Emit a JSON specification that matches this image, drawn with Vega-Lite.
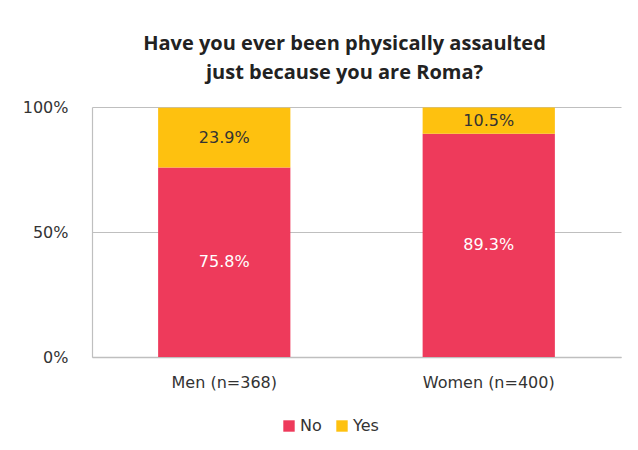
{
  "$schema": "https://vega.github.io/schema/vega-lite/v6.json",
  "width": 529,
  "height": 250,
  "padding": {"left": 22, "top": 34, "right": 17, "bottom": 14},
  "background": "white",
  "title": {
    "text": ["Have you ever been physically assaulted", "just because you are Roma?"],
    "font": "Open Sans",
    "fontSize": 20,
    "fontWeight": "bold",
    "color": "#222222",
    "anchor": "middle",
    "dx": -12,
    "offset": 16,
    "lineHeight": 29
  },
  "data": {
    "values": [
      {"group": "Men (n=368)", "answer": "No", "value": 0.758},
      {"group": "Men (n=368)", "answer": "Yes", "value": 0.239},
      {"group": "Women (n=400)", "answer": "No", "value": 0.893},
      {"group": "Women (n=400)", "answer": "Yes", "value": 0.105}
    ]
  },
  "encoding": {
    "x": {
      "field": "group",
      "type": "nominal",
      "sort": null,
      "scale": {"paddingInner": 0.5, "paddingOuter": 0.25},
      "axis": {
        "title": null,
        "labelAngle": 0,
        "labelFont": "DejaVu Sans",
        "labelFontSize": 16,
        "labelColor": "#333333",
        "labelPadding": 17,
        "ticks": false,
        "domainColor": "#bfbfbf",
        "domainWidth": 1.5
      }
    }
  },
  "layer": [
    {
      "mark": {"type": "bar"},
      "encoding": {
        "y": {
          "field": "value",
          "type": "quantitative",
          "stack": "zero",
          "scale": {"domain": [0, 1]},
          "axis": {
            "title": null,
            "values": [0, 0.5, 1],
            "format": ".0%",
            "labelFont": "DejaVu Sans",
            "labelFontSize": 16,
            "labelColor": "#333333",
            "labelPadding": 24,
            "ticks": false,
            "grid": true,
            "gridColor": "#bfbfbf",
            "gridWidth": 1.2,
            "domain": true,
            "domainColor": "#bfbfbf",
            "domainWidth": 1.2
          }
        },
        "color": {
          "field": "answer",
          "type": "nominal",
          "scale": {"domain": ["No", "Yes"], "range": ["#EE3A5B", "#FEC10F"]},
          "legend": {
            "title": null,
            "orient": "none",
            "legendX": 189,
            "legendY": 311,
            "direction": "horizontal",
            "symbolType": "square",
            "symbolSize": 130,
            "symbolStrokeWidth": 0,
            "labelFont": "DejaVu Sans",
            "labelFontSize": 16,
            "labelColor": "#333333",
            "columnPadding": 12,
            "labelOffset": 3
          }
        },
        "order": {"field": "answer", "sort": "ascending"}
      }
    },
    {
      "mark": {"type": "text", "font": "DejaVu Sans", "fontSize": 16, "baseline": "middle"},
      "encoding": {
        "y": {"field": "value", "type": "quantitative", "stack": "zero", "bandPosition": 0.5},
        "detail": {"field": "answer"},
        "order": {"field": "answer", "sort": "ascending"},
        "text": {"field": "value", "type": "quantitative", "format": ".1%"},
        "color": {
          "condition": {"test": "datum.answer === 'No'", "value": "white"},
          "value": "#333333"
        }
      }
    }
  ],
  "config": {"view": {"stroke": null}}
}
